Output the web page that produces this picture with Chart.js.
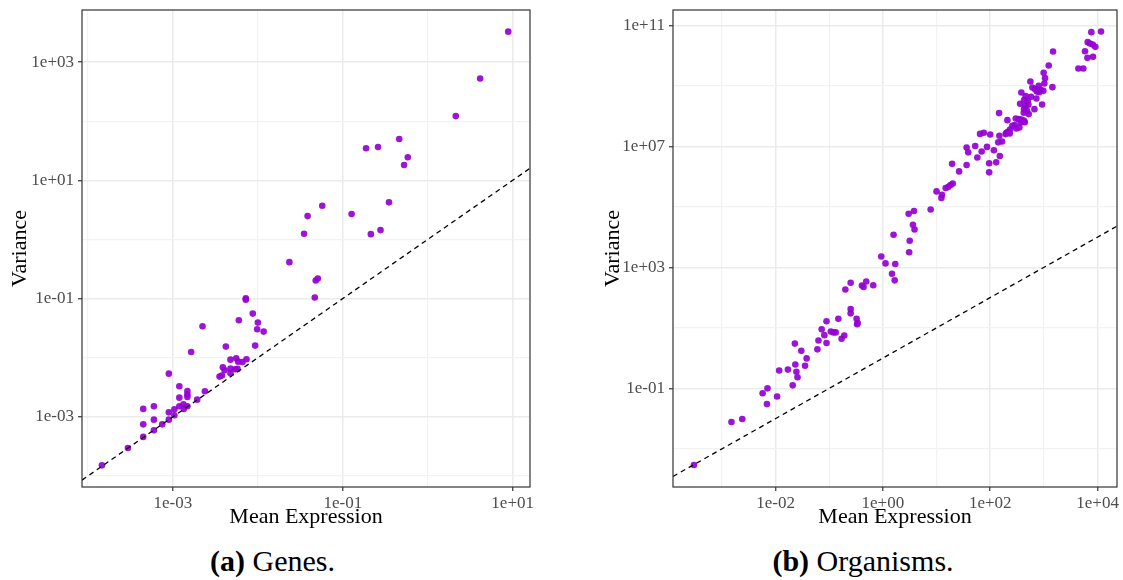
<!DOCTYPE html>
<html>
<head>
<meta charset="utf-8">
<script src="https://cdn.jsdelivr.net/npm/chart.js@4/dist/chart.umd.min.js"></script>
<style>
  body { margin: 0; background: #fff; width: 1123px; height: 580px; position: relative; overflow: hidden; font-family: "Liberation Serif", serif; }
  canvas { position: absolute; top: 0; }
  #chartA { left: 0; }
  #chartB { left: 590px; }
  .caption { position: absolute; top: 546px; font-size: 30px; line-height: 30px; text-align: center; color: #000; }
</style>
</head>
<body>
<canvas id="chartA" width="545" height="535"></canvas>
<canvas id="chartB" width="533" height="535"></canvas>
<div class="caption" style="left:0; width:545px;"><b>(a)</b> Genes.</div>
<div class="caption" style="left:590px; width:546px;"><b>(b)</b> Organisms.</div>

<script>
// (a) Genes: mean expression vs variance
const geneMean = [
    1.46e-4, 2.95e-4, 4.47e-4, 4.47e-4, 4.47e-4, 5.97e-4, 5.97e-4, 5.97e-4, 7.48e-4, 8.95e-4,
    8.95e-4, 8.95e-4, 1.04e-3, 1.04e-3, 1.19e-3, 1.19e-3, 1.19e-3, 1.33e-3, 1.34e-3, 1.48e-3,
    1.48e-3, 1.48e-3, 1.48e-3, 1.64e-3, 1.93e-3, 2.23e-3, 2.38e-3, 3.54e-3, 3.77e-3, 3.87e-3,
    4.06e-3, 4.20e-3, 4.76e-3, 4.76e-3, 4.76e-3, 5.41e-3, 5.56e-3, 5.75e-3, 5.86e-3, 5.97e-3,
    6.59e-3, 7.21e-3, 7.21e-3, 7.35e-3, 8.71e-3, 9.29e-3, 1.00e-2, 9.82e-3, 1.17e-2,
    8.87, 4.14, 2.14, 0.462, 0.188, 0.260, 0.583, 0.527, 0.350, 5.73e-2,
    3.85e-2, 0.127, 3.50e-2, 0.214, 0.278, 2.35e-2, 4.80e-2, 5.08e-2, 4.68e-2
];
const geneVar = [
    1.51e-4, 2.97e-4, 4.57e-4, 7.46e-4, 1.36e-3, 5.92e-4, 8.95e-4, 1.51e-3, 7.46e-4, 8.95e-4,
    1.19e-3, 5.37e-3, 1.06e-3, 1.34e-3, 1.51e-3, 2.11e-3, 3.28e-3, 1.63e-3, 1.36e-3, 1.51e-3,
    2.17e-3, 2.40e-3, 2.74e-3, 1.25e-2, 1.95e-3, 3.40e-2, 2.70e-3, 4.79e-3, 4.98e-3, 6.89e-3,
    6.12e-3, 1.54e-2, 9.27e-3, 6.53e-3, 5.45e-3, 6.37e-3, 9.77e-3, 6.46e-3, 8.57e-3, 4.30e-2,
    8.47e-3, 0.101, 9.55e-2, 9.40e-3, 5.57e-2, 1.60e-2, 3.92e-2, 3.03e-2, 2.76e-2,
    3270, 528, 122, 50.1, 34.8, 36.7, 24.5, 18.2, 4.24, 3.72,
    2.48, 2.69, 1.25, 1.23, 1.44, 0.413, 0.202, 0.218, 0.104
];

// (b) Organisms
const orgMean = [
    3.02e-4, 1.51e-3, 2.40e-3, 5.75e-3, 7.08e-3, 6.92e-3, 1.07e-2, 1.17e-2, 1.70e-2, 2.09e-2,
    2.34e-2, 2.45e-2, 2.57e-2, 2.29e-2, 3.02e-2, 3.55e-2, 3.80e-2, 6.03e-2, 6.31e-2, 7.24e-2,
    8.13e-2, 8.91e-2, 8.91e-2, 0.107, 0.120, 0.132, 0.148, 0.170, 0.191, 0.251,
    0.251, 0.324, 0.339, 0.331, 0.200, 0.251, 0.407, 0.437, 0.490, 0.661,
    1.48, 1.66, 0.933, 1.12, 1.70, 1.58, 3.09, 3.16, 3.63, 3.89,
    3.02, 3.80, 7.76, 10.0, 12.6, 12.3, 14.8, 16.6, 18.2, 20.0,
    19.5, 26.3, 36.3, 36.3, 38.9, 52.5, 57.5, 69.2, 87.1, 64.6,
    75.9, 100, 95.5, 95.5, 117, 129, 151, 148, 141, 166,
    146, 209, 299, 340, 380, 421, 370, 440, 259, 286,
    307, 349, 234, 214, 200, 194, 231, 989, 1050, 1020,
    1440, 560, 800, 610, 684, 757, 859, 977, 813, 741,
    380, 457, 575, 724, 427, 500, 360, 925, 446, 514,
    427, 485, 421, 665, 521, 11600, 7660, 6550, 7230, 8110,
    9080, 5830, 6460, 8220, 4390, 5430, 1480, 1230
];
const orgVar = [
    2.95e-4, 7.76e-3, 9.77e-3, 6.92e-2, 0.100, 3.02e-2, 5.37e-2, 0.389, 0.417, 0.126,
    0.617, 0.355, 0.234, 3.02, 1.74, 0.562, 0.977, 1.95, 3.80, 8.91,
    5.75, 3.16, 16.6, 7.59, 7.08, 7.08, 20.0, 4.37, 5.62, 41.7,
    30.2, 20.0, 14.5, 13.2, 186, 309, 251, 224, 339, 257,
    617, 372, 2290, 1350, 1290, 12000, 3160, 7590, 25700, 17800,
    58900, 72400, 81300, 3.24e5, 2.51e5, 1.95e5, 4.17e5, 4.57e5, 5.25e5, 5.89e5,
    2.63e6, 1.48e6, 2.40e6, 9.12e6, 6.31e6, 1.02e7, 4.27e6, 6.76e6, 9.55e6, 2.57e7,
    2.82e7, 2.45e7, 2.75e6, 1.38e6, 7.41e6, 2.95e6, 4.79e6, 2.24e7, 1.35e7, 1.45e7,
    1.25e8, 7.33e7, 8.32e7, 7.91e7, 7.71e7, 7.14e7, 6.14e7, 6.30e7, 4.76e7, 5.01e7,
    3.89e7, 4.20e7, 3.61e7, 3.02e7, 2.80e7, 2.53e7, 2.66e7, 2.68e9, 1.79e9, 1.19e9,
    9.02e8, 1.39e9, 9.98e8, 8.79e8, 7.74e8, 7.18e8, 7.55e8, 6.82e8, 6.17e8, 6.49e8,
    6.01e8, 4.55e8, 4.33e8, 3.81e8, 3.36e8, 3.19e8, 2.54e8, 2.42e8, 2.13e8, 2.36e8,
    1.69e8, 1.49e8, 1.28e8, 1.69e8, 1.16e8, 6.22e10, 5.92e10, 2.77e10, 2.50e10, 2.32e10,
    1.94e10, 1.39e10, 8.39e9, 9.06e9, 3.72e9, 3.72e9, 1.36e10, 4.69e9
];

// axis ranges and breaks (major = labelled, minor = grid only)
const geneXRange = [8.5e-5, 16];
const geneYRange = [6.5e-5, 7600];
const geneXMajor = [1e-3, 1e-1, 1e1];
const geneXMinor = [1e-4, 1e-2, 1e0];
const geneYMajor = [1e-3, 1e-1, 1e1, 1e3];
const geneYMinor = [1e-4, 1e-2, 1e0, 1e2];

const orgXRange = [1.23e-4, 2.3e4];
const orgYRange = [5.5e-5, 3.2e11];
const orgXMajor = [1e-2, 1e0, 1e2, 1e4];
const orgXMinor = [1e-3, 1e-1, 1e1, 1e3];
const orgYMajor = [1e-1, 1e3, 1e7, 1e11];
const orgYMinor = [1e-3, 1e1, 1e5, 1e9];

const FONT = '"Liberation Serif", serif';
const POINT_COLOR = 'rgba(148, 0, 211, 0.92)';

function sciLabel(v) {
    const e = Math.round(Math.log10(v));
    return '1e' + (e < 0 ? '-' : '+') + String(Math.abs(e)).padStart(2, '0');
}

// ggplot-style full panel border
const panelBorder = {
    id: 'panelBorder',
    afterDraw(chart) {
        const { ctx, chartArea: a } = chart;
        ctx.save();
        ctx.strokeStyle = '#333333';
        ctx.lineWidth = 1.2;
        ctx.strokeRect(a.left, a.top, a.right - a.left, a.bottom - a.top);
        ctx.restore();
    }
};

function logAxis(range, majors, minors, title, fitSize, isY, titlePad) {
    const all = majors.concat(minors).sort((a, b) => a - b);
    const isMajor = v => majors.indexOf(v) !== -1;
    return {
        type: 'logarithmic',
        min: range[0],
        max: range[1],
        afterBuildTicks: s => { s.ticks = all.map(v => ({ value: v })); },
        afterFit: s => {
            // fixed axis box so the panel sits exactly where the figure has it
            if (isY) s.width = fitSize; else s.height = fitSize;
            s.paddingTop = 0; s.paddingBottom = 0;
            s.paddingLeft = 0; s.paddingRight = 0;
        },
        ticks: {
            autoSkip: false,
            maxRotation: 0,
            padding: isY ? 4 : 2,
            color: '#4D4D4D',
            font: { family: FONT, size: 17 },
            callback: v => isMajor(v) ? sciLabel(v) : ''
        },
        grid: {
            color: c => (c.tick && isMajor(c.tick.value)) ? '#EBEBEB' : '#F2F2F2',
            lineWidth: c => (c.tick && isMajor(c.tick.value)) ? 1.5 : 1.2,
            tickColor: c => (c.tick && isMajor(c.tick.value)) ? '#333333' : 'rgba(0,0,0,0)',
            tickLength: 4,
            tickWidth: 1.2
        },
        border: { display: false },
        title: {
            display: true,
            text: title,
            color: '#000',
            font: { family: FONT, size: 22 },
            padding: titlePad
        }
    };
}

function buildPanel(id, means, vars, xr, yr, xMaj, xMin, yMaj, yMin, yWidth, rightPad, yTitlePad) {
    const points = means.map((m, i) => ({ x: m, y: vars[i] }));
    // identity line y = x across the x range
    const identity = [{ x: xr[0], y: xr[0] }, { x: xr[1], y: xr[1] }];
    new Chart(document.getElementById(id), {
        type: 'scatter',
        data: {
            datasets: [
                {
                    data: identity,
                    showLine: true,
                    borderColor: '#000',
                    borderWidth: 1.3,
                    borderDash: [5, 4],
                    pointRadius: 0,
                    order: 0
                },
                {
                    data: points,
                    backgroundColor: POINT_COLOR,
                    borderWidth: 0,
                    pointRadius: 3.3,
                    order: 1
                }
            ]
        },
        options: {
            responsive: false,
            animation: false,
            layout: { padding: { top: 10, right: rightPad, left: 0, bottom: 0 } },
            plugins: { legend: { display: false }, tooltip: { enabled: false } },
            scales: {
                x: logAxis(xr, xMaj, xMin, 'Mean Expression', 48, false, { top: 0, bottom: 5 }),
                y: logAxis(yr, yMaj, yMin, 'Variance', yWidth, true, { top: yTitlePad, bottom: 0 })
            }
        },
        plugins: [panelBorder]
    });
}

buildPanel('chartA', geneMean, geneVar, geneXRange, geneYRange,
    geneXMajor, geneXMinor, geneYMajor, geneYMinor, 82, 15, 7);
buildPanel('chartB', orgMean, orgVar, orgXRange, orgYRange,
    orgXMajor, orgXMinor, orgYMajor, orgYMinor, 83, 6, 10);
</script>
</body>
</html>
